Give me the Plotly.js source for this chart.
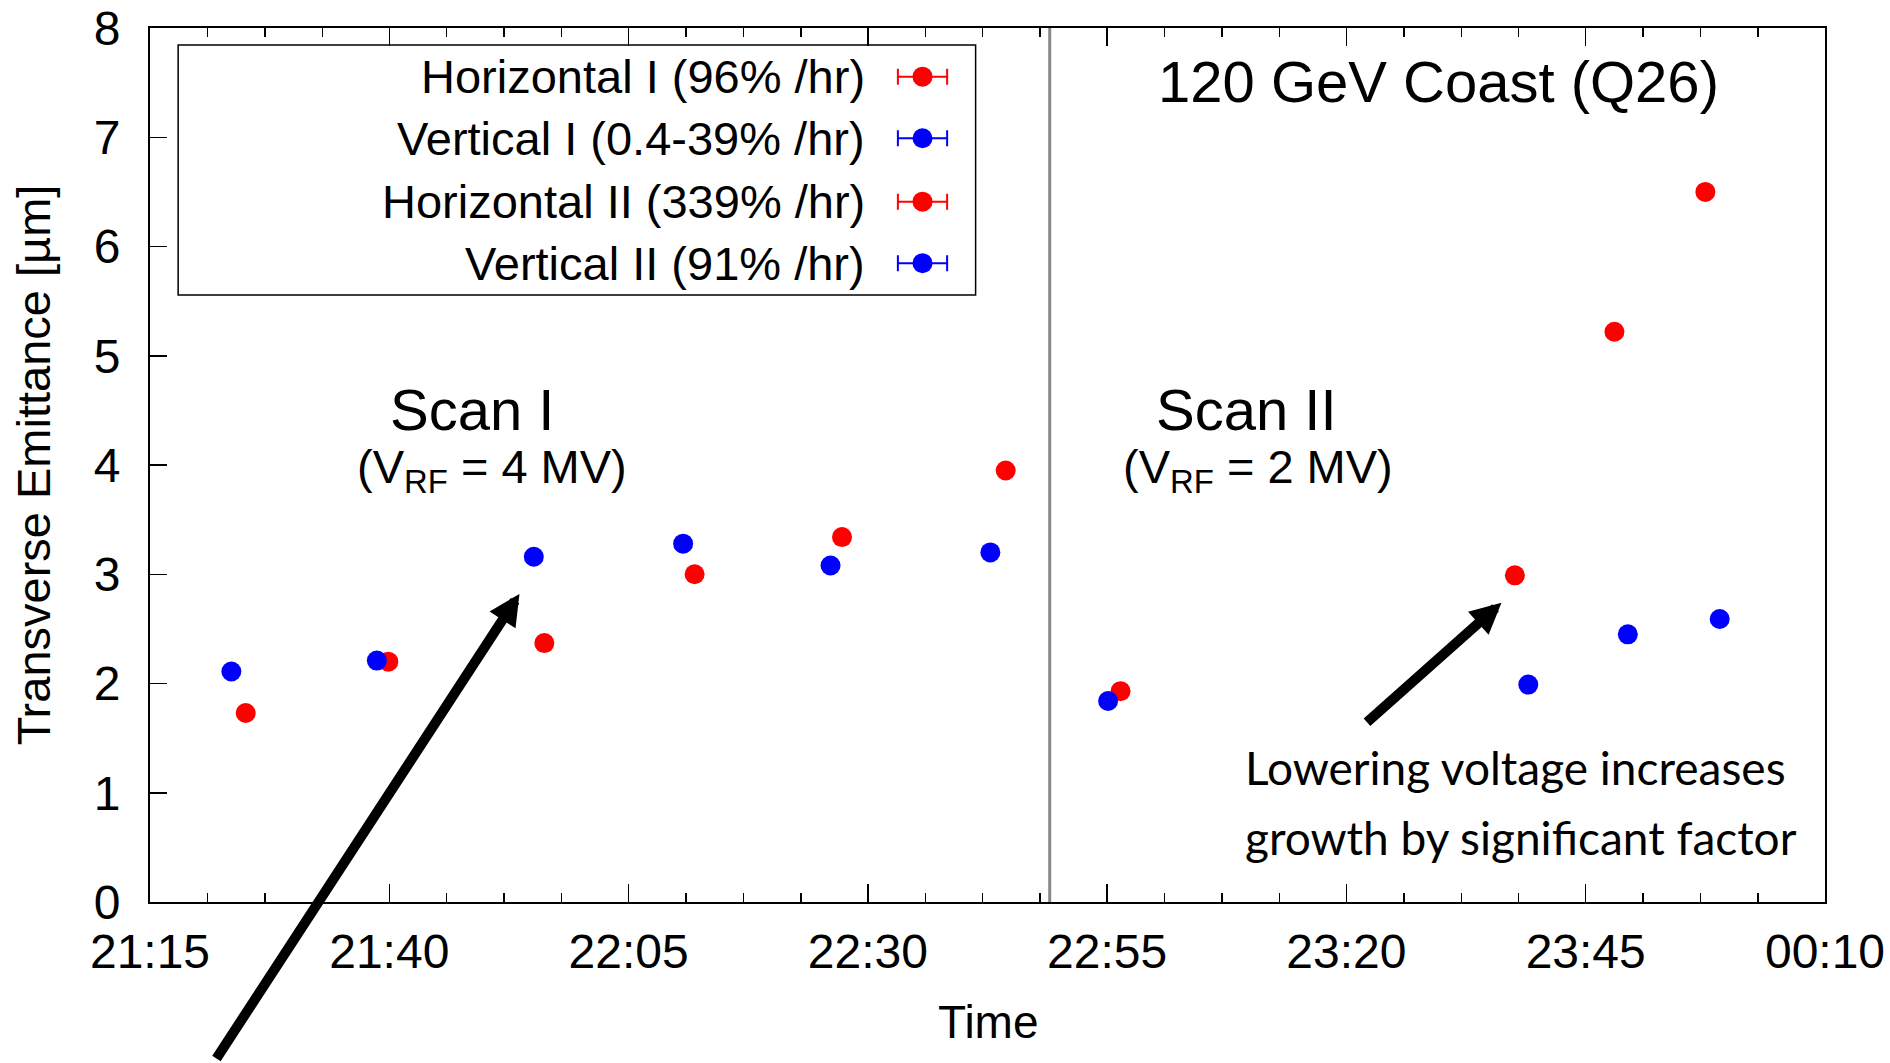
<!DOCTYPE html>
<html><head><meta charset="utf-8">
<script src="https://cdn.plot.ly/plotly-3.0.1.min.js"></script>
<style>html,body{margin:0;padding:0;background:#fff;} #chart{width:1890px;height:1063px;}</style>
</head><body><div id="chart"></div>
<script>
// ---- data ----
const horizI_time = ['2014-01-01 21:25:00','2014-01-01 21:39:54','2014-01-01 21:56:12','2014-01-01 22:11:54','2014-01-01 22:27:18','2014-01-01 22:44:24'];
const horizI_val  = [1.73, 2.20, 2.37, 3.00, 3.34, 3.95];
const vertI_time  = ['2014-01-01 21:23:30','2014-01-01 21:38:42','2014-01-01 21:55:06','2014-01-01 22:10:42','2014-01-01 22:26:06','2014-01-01 22:42:48'];
const vertI_val   = [2.11, 2.21, 3.16, 3.28, 3.08, 3.20];
const horizII_time = ['2014-01-01 22:56:24','2014-01-01 23:37:36','2014-01-01 23:48:00','2014-01-01 23:57:30'];
const horizII_val  = [1.93, 2.99, 5.22, 6.50];
const vertII_time  = ['2014-01-01 22:55:06','2014-01-01 23:39:00','2014-01-01 23:49:24','2014-01-01 23:59:00'];
const vertII_val   = [1.84, 1.99, 2.45, 2.59];
const seriesNames = ['Horizontal I (96% /hr)', 'Vertical I (0.4-39% /hr)', 'Horizontal II (339% /hr)', 'Vertical II (91% /hr)'];
const seriesColors = ['#ff0000', '#0000ff', '#ff0000', '#0000ff'];
const xRange = ['2014-01-01 21:15', '2014-01-02 00:10'];
const majorTicks = ['2014-01-01 21:15','2014-01-01 21:40','2014-01-01 22:05','2014-01-01 22:30','2014-01-01 22:55','2014-01-01 23:20','2014-01-01 23:45','2014-01-02 00:10'];
const minorOffsetsMin = [6, 12, 18];
const scanBoundary = '2014-01-01 22:49:00';
const yRange = [0, 8];
const xTitle = 'Time';
const yTitle = 'Transverse Emittance [µm]';

// ---- build ----
function ms(s){ return new Date(s.replace(' ', 'T') + (s.length===16?':00':'')).getTime(); }
function fmt(t){ const d=new Date(t); const p=n=>String(n).padStart(2,'0');
  return d.getFullYear()+'-'+p(d.getMonth()+1)+'-'+p(d.getDate())+' '+p(d.getHours())+':'+p(d.getMinutes())+':'+p(d.getSeconds()); }
const minorVals = [];
majorTicks.slice(0, -1).forEach(m => minorOffsetsMin.forEach(o => minorVals.push(fmt(ms(m) + o*60000))));

const FONT = 'Liberation Sans, Arial, Helvetica, sans-serif';
const MS = 20;

const dataSets = [[horizI_time, horizI_val],[vertI_time, vertI_val],[horizII_time, horizII_val],[vertII_time, vertII_val]];
const traces = dataSets.map((d, i) => ({
  type: 'scatter', mode: 'markers', x: d[0], y: d[1], name: seriesNames[i],
  marker: {size: MS, color: seriesColors[i]}, showlegend: false, cliponaxis: false
}));

// custom gnuplot-style key (text right, sample at right)
const keyBox = {x0: 0.0168, x1: 0.4929, y0: 0.6946, y1: 0.9806};
const keyRows = [0.9443, 0.8738, 0.8013, 0.7309];
const keyTextX = 0.4281, keySampleX = 0.4612, keyBarHalf = 0.0147;
seriesNames.forEach((n, i) => traces.push({
  type: 'scatter', mode: 'markers', x: [keySampleX], y: [keyRows[i]], xaxis: 'x2', yaxis: 'y2',
  marker: {size: MS, color: seriesColors[i]}, showlegend: false,
  error_x: {type: 'constant', value: keyBarHalf, color: seriesColors[i], thickness: 2, width: 8}
}));

const annotations = seriesNames.map((n, i) => ({
  xref: 'paper', yref: 'paper', x: keyTextX, y: keyRows[i], xanchor: 'right', yanchor: 'middle',
  text: n, showarrow: false, font: {family: FONT, size: 47, color: '#000'}
}));
annotations.push(
  {xref:'paper', yref:'paper', x:0.5004, y:-0.137, text:xTitle, showarrow:false, xanchor:'center', yanchor:'middle', font:{family:FONT, size:46, color:'#000'}},
  {xref:'paper', yref:'paper', x:0.7691, y:0.9386, text:'120 GeV Coast (Q26)', showarrow:false, xanchor:'center', yanchor:'middle', font:{family:FONT, size:58, color:'#000'}},
  {xref:'paper', yref:'paper', x:0.192, y:0.5631, text:'Scan I', showarrow:false, xanchor:'center', yanchor:'middle', font:{family:FONT, size:58, color:'#000'}},
  {xref:'paper', yref:'paper', x:0.204, y:0.4944, text:'(V<sub>RF</sub> = 4 MV)', showarrow:false, xanchor:'center', yanchor:'middle', font:{family:FONT, size:47, color:'#000'}},
  {xref:'paper', yref:'paper', x:0.6548, y:0.5631, text:'Scan II', showarrow:false, xanchor:'center', yanchor:'middle', font:{family:FONT, size:58, color:'#000'}},
  {xref:'paper', yref:'paper', x:0.6614, y:0.4944, text:'(V<sub>RF</sub> = 2 MV)', showarrow:false, xanchor:'center', yanchor:'middle', font:{family:FONT, size:47, color:'#000'}},
  {xref:'paper', yref:'paper', x:0.6525, y:0.1536, text:'Lowering voltage increases', showarrow:false, xanchor:'left', yanchor:'middle', align:'left', font:{family:'Lato, sans-serif', size:46, color:'#000'}},
  {xref:'paper', yref:'paper', x:0.6525, y:0.0735, text:'growth by significant factor', showarrow:false, xanchor:'left', yanchor:'middle', align:'left', font:{family:'Lato, sans-serif', size:46, color:'#000'}},
  {xref:'x', yref:'y', x:'2014-01-01 21:53:36', y:2.82, ax:-304, ay:466, text:'', showarrow:true, arrowhead:2, arrowwidth:10, arrowsize:0.62, arrowcolor:'#000'},
  {xref:'x', yref:'y', x:'2014-01-01 23:36:12', y:2.74, ax:-136, ay:121, text:'', showarrow:true, arrowhead:2, arrowwidth:10, arrowsize:0.62, arrowcolor:'#000'}
);

const layout = {
  width: 1890, height: 1063,
  margin: {l: 150, r: 65, t: 28, b: 161},
  paper_bgcolor: '#fff', plot_bgcolor: '#fff',
  showlegend: false,
  font: {family: FONT, color: '#000'},
  xaxis: {
    type: 'date', range: xRange, tickmode: 'array', tickvals: majorTicks, tickformat: '%H:%M',
    ticks: 'inside', ticklen: 18, tickwidth: 1.5, tickcolor: '#000',
    minor: {tickmode: 'array', tickvals: minorVals, ticks: 'inside', ticklen: 9, tickwidth: 1.5, tickcolor: '#000', showgrid: false},
    showline: true, linecolor: '#000', linewidth: 2, mirror: 'ticks', showgrid: false, zeroline: false,
    tickfont: {family: FONT, size: 48}, ticklabelstandoff: 6
  },
  yaxis: {
    range: yRange, dtick: 1, ticks: 'inside', ticklen: 17, tickwidth: 1.5, tickcolor: '#000',
    showline: true, linecolor: '#000', linewidth: 2, mirror: true, showgrid: false, zeroline: false,
    tickfont: {family: FONT, size: 48}, ticklabelstandoff: 18,
    title: {text: yTitle, font: {family: FONT, size: 47}, standoff: 28}
  },
  xaxis2: {overlaying: 'x', range: [0, 1], visible: false, fixedrange: true},
  yaxis2: {overlaying: 'y', range: [0, 1], visible: false, fixedrange: true},
  shapes: [
    {type: 'rect', xref: 'paper', yref: 'paper', x0: keyBox.x0, x1: keyBox.x1, y0: keyBox.y0, y1: keyBox.y1, line: {color: '#000', width: 1.5}, fillcolor: 'rgba(0,0,0,0)'},
    {type: 'line', xref: 'x', yref: 'paper', x0: scanBoundary, x1: scanBoundary, y0: 0, y1: 1, line: {color: '#888888', width: 3}}
  ],
  annotations: annotations
};

Plotly.newPlot('chart', traces, layout, {staticPlot: true, displayModeBar: false});
</script>
</body></html>
